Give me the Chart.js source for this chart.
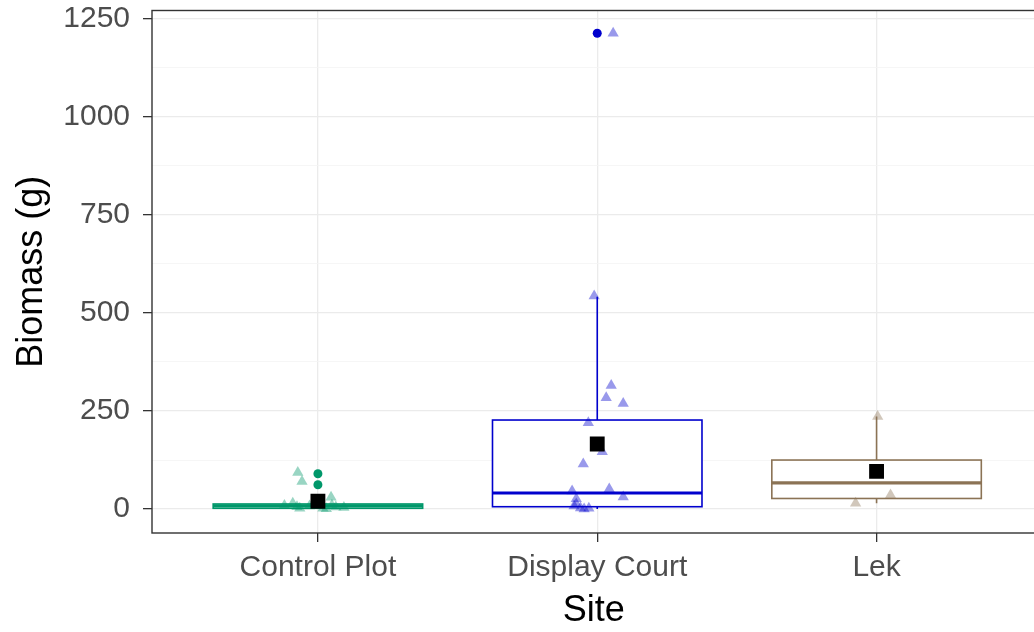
<!DOCTYPE html>
<html>
<head>
<meta charset="utf-8">
<script src="https://cdn.jsdelivr.net/npm/chart.js@4.4.1/dist/chart.umd.min.js"></script>
<style>
  html, body { margin: 0; padding: 0; background: #ffffff; overflow: hidden; }
  #wrap { width: 1046px; height: 632px; }
</style>
</head>
<body>
<div id="wrap"><canvas id="chart" width="1046" height="632"></canvas></div>
<script>
// categories and tick labels
const categories = ['Control Plot', 'Display Court', 'Lek'];
const yMajorTicks = [0, 250, 500, 750, 1000, 1250];
const yMinorTicks = [125, 375, 625, 875, 1125];

// box summaries per site
const boxLow = [0, 0, 15];
const boxQ1 = [2, 6, 27];
const boxMedian = [8, 41, 67];
const boxQ3 = [13, 227, 125];
const boxHigh = [30, 541, 236];
const siteMeans = [20, 166, 96];

// outliers (drawn as solid dots on the site centre)
const controlOutliers = [90, 62];
const displayOutliers = [1213];

// jittered raw observations (x = site position + jitter)
const controlJitterX = [0.928, 0.943, 0.91, 0.925, 0.935, 0.97, 1.018, 1.03, 1.047, 1.05, 1.064, 1.093, 0.88];
const controlValues = [93, 70, 15, 6, 2, 8, 2, 1, 30, 10, 5, 4, 9];
const displayJitterX = [2.057, 1.989, 2.05, 2.032, 2.093, 1.968, 2.018, 1.95, 1.91, 2.043, 2.093, 1.925, 1.917, 1.94, 1.953, 1.97, 1.925];
const displayValues = [1213, 543, 315, 284, 269, 220, 146, 115, 46, 51, 31, 26, 8, 3, 0, 2, 13];
const lekJitterX = [3.004, 2.925, 3.05, 3.0];
const lekValues = [236, 15, 36, 97];

const siteColors = ['#00976A', '#0000CD', '#8B7355'];
const siteFaded = ['rgba(0,151,106,0.4)', 'rgba(0,0,205,0.4)', 'rgba(139,115,85,0.4)'];

function toPoints(xs, ys) {
    return ys.map((v, i) => ({ x: xs[i], y: v }));
}

const boxPlugin = {
    id: 'boxes',
    beforeDatasetsDraw(chart) {
        const ctx = chart.ctx;
        const xs = chart.scales.x;
        const ys = chart.scales.y;
        ctx.save();
        categories.forEach((c, i) => {
            const pos = i + 1;
            const x0 = xs.getPixelForValue(pos - 0.375);
            const x1 = xs.getPixelForValue(pos + 0.375);
            const xc = xs.getPixelForValue(pos);
            const yLo = ys.getPixelForValue(boxLow[i]);
            const yQ1 = ys.getPixelForValue(boxQ1[i]);
            const yMed = ys.getPixelForValue(boxMedian[i]);
            const yQ3 = ys.getPixelForValue(boxQ3[i]);
            const yHi = ys.getPixelForValue(boxHigh[i]);
            ctx.strokeStyle = siteColors[i];
            ctx.lineWidth = 1.6;
            ctx.beginPath();
            ctx.moveTo(xc, yQ3); ctx.lineTo(xc, yHi);
            ctx.moveTo(xc, yQ1); ctx.lineTo(xc, yLo);
            ctx.stroke();
            ctx.fillStyle = '#ffffff';
            ctx.fillRect(x0, yQ3, x1 - x0, yQ1 - yQ3);
            ctx.strokeRect(x0, yQ3, x1 - x0, yQ1 - yQ3);
            ctx.lineWidth = 3.2;
            ctx.beginPath();
            ctx.moveTo(x0, yMed); ctx.lineTo(x1, yMed);
            ctx.stroke();
        });
        ctx.restore();
    },
    afterDraw(chart) {
        const a = chart.chartArea;
        const ctx = chart.ctx;
        ctx.save();
        ctx.strokeStyle = '#333333';
        ctx.lineWidth = 1.4;
        ctx.strokeRect(a.left, a.top, a.right - a.left, a.bottom - a.top);
        ctx.restore();
    }
};

const tickFont = { family: "'Liberation Sans', Arial, sans-serif", size: 30 };
const titleFont = { family: "'Liberation Sans', Arial, sans-serif", size: 36, lineHeight: 1 };

new Chart(document.getElementById('chart').getContext('2d'), {
    type: 'scatter',
    data: {
        datasets: [
            {
                label: 'mean',
                data: siteMeans.map((v, i) => ({ x: i + 1, y: v })),
                pointStyle: 'rect',
                pointRadius: 10.5,
                backgroundColor: '#000000',
                borderWidth: 0,
                order: 0
            },
            {
                label: 'Control Plot outliers',
                data: controlOutliers.map(v => ({ x: 1, y: v })),
                pointRadius: 4.5,
                backgroundColor: siteColors[0],
                borderWidth: 0,
                order: 1
            },
            {
                label: 'Display Court outliers',
                data: displayOutliers.map(v => ({ x: 2, y: v })),
                pointRadius: 4.5,
                backgroundColor: siteColors[1],
                borderWidth: 0,
                order: 1
            },
            {
                label: 'Control Plot',
                data: toPoints(controlJitterX, controlValues),
                pointStyle: 'triangle',
                pointRadius: 6.5,
                backgroundColor: siteFaded[0],
                borderWidth: 0,
                order: 2
            },
            {
                label: 'Display Court',
                data: toPoints(displayJitterX, displayValues),
                pointStyle: 'triangle',
                pointRadius: 6.5,
                backgroundColor: siteFaded[1],
                borderWidth: 0,
                order: 2
            },
            {
                label: 'Lek',
                data: toPoints(lekJitterX, lekValues),
                pointStyle: 'triangle',
                pointRadius: 6.5,
                backgroundColor: siteFaded[2],
                borderWidth: 0,
                order: 2
            }
        ]
    },
    options: {
        responsive: false,
        animation: false,
        layout: { padding: { top: 10, right: 4, left: 0, bottom: 0 } },
        plugins: {
            legend: { display: false },
            tooltip: { enabled: false }
        },
        scales: {
            x: {
                type: 'linear',
                min: 0.406,
                max: 3.569,
                afterBuildTicks: scale => {
                    scale.ticks = categories.map((c, i) => ({ value: i + 1 }));
                },
                afterFit: scale => {
                    scale.height = 99;
                    scale.paddingLeft = 0;
                    scale.paddingRight = 0;
                },
                ticks: {
                    autoSkip: false,
                    maxRotation: 0,
                    padding: 8,
                    color: '#4D4D4D',
                    font: tickFont,
                    callback: v => categories[v - 1]
                },
                grid: {
                    color: '#EBEBEB',
                    lineWidth: 1.3,
                    tickLength: 9,
                    tickColor: '#333333',
                    tickWidth: 1.3
                },
                border: { display: false },
                title: {
                    display: true,
                    text: 'Site',
                    color: '#000000',
                    font: titleFont,
                    padding: { top: 0, bottom: 3 }
                }
            },
            y: {
                min: -61,
                max: 1271,
                afterBuildTicks: scale => {
                    scale.ticks = yMajorTicks.concat(yMinorTicks).sort((a, b) => a - b).map(v => ({ value: v }));
                },
                afterFit: scale => {
                    scale.width = 152;
                    scale.paddingTop = 0;
                    scale.paddingBottom = 0;
                },
                ticks: {
                    autoSkip: false,
                    padding: 13,
                    color: '#4D4D4D',
                    font: tickFont,
                    callback: v => yMajorTicks.includes(v) ? String(v) : ''
                },
                grid: {
                    color: ctx => yMajorTicks.includes(ctx.tick.value) ? '#EBEBEB' : '#F4F4F4',
                    lineWidth: ctx => yMajorTicks.includes(ctx.tick.value) ? 1.3 : 0.8,
                    tickLength: 9,
                    tickColor: ctx => yMajorTicks.includes(ctx.tick.value) ? '#333333' : 'rgba(0,0,0,0)',
                    tickWidth: 1.3
                },
                border: { display: false },
                title: {
                    display: true,
                    text: 'Biomass (g)',
                    color: '#000000',
                    font: titleFont,
                    padding: { top: 14, bottom: 0 }
                }
            }
        }
    },
    plugins: [boxPlugin]
});
</script>
</body>
</html>
